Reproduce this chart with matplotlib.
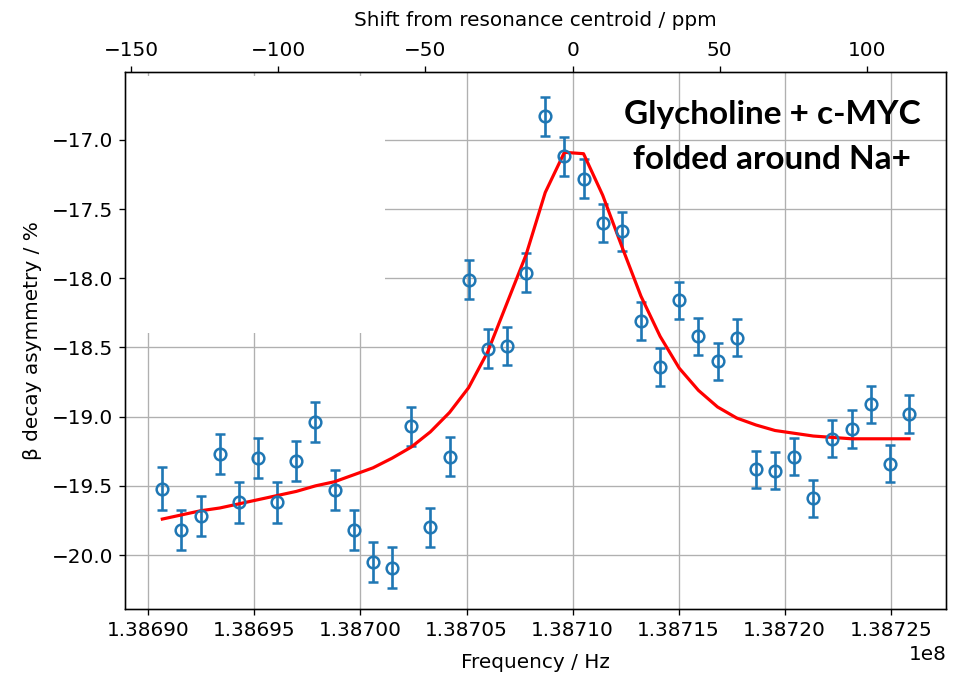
import numpy as np
import matplotlib
matplotlib.use('Agg')
import matplotlib.pyplot as plt
from matplotlib.patches import Rectangle

# frequencies of the scan points (Hz)
freq = [138690660, 138691563, 138692465, 138693368, 138694270, 138695173,
        138696076, 138696978, 138697881, 138698783, 138699686, 138700589,
        138701491, 138702394, 138703296, 138704199, 138705102, 138706004,
        138706907, 138707809, 138708712, 138709615, 138710517, 138711420,
        138712322, 138713225, 138714128, 138715030, 138715933, 138716835,
        138717738, 138718641, 138719543, 138720446, 138721348, 138722251,
        138723154, 138724056, 138724959, 138725861]

# measured asymmetry (%)
asym = [-19.52, -19.82, -19.72, -19.27, -19.62, -19.30, -19.62, -19.32,
        -19.04, -19.53, -19.82, -20.05, -20.09, -19.07, -19.80, -19.29,
        -18.01, -18.51, -18.49, -17.96, -16.83, -17.12, -17.28, -17.60,
        -17.66, -18.31, -18.64, -18.16, -18.42, -18.60, -18.43, -19.38,
        -19.39, -19.29, -19.59, -19.16, -19.09, -18.91, -19.34, -18.98]

asym_err = [0.155, 0.145, 0.145, 0.145, 0.145, 0.145, 0.145, 0.145,
            0.145, 0.145, 0.145, 0.145, 0.145, 0.14, 0.14, 0.14,
            0.14, 0.14, 0.14, 0.14, 0.14, 0.14, 0.14, 0.14,
            0.14, 0.135, 0.135, 0.135, 0.135, 0.135, 0.135, 0.135,
            0.135, 0.135, 0.135, 0.135, 0.135, 0.135, 0.135, 0.135]

# fitted curve evaluated at the scan points
fit = [-19.74, -19.71, -19.68, -19.66, -19.63, -19.60, -19.57, -19.54,
       -19.50, -19.47, -19.42, -19.37, -19.30, -19.22, -19.11, -18.97,
       -18.79, -18.53, -18.18, -17.83, -17.38, -17.09, -17.10, -17.40,
       -17.77, -18.13, -18.42, -18.65, -18.81, -18.93, -19.01, -19.06,
       -19.10, -19.12, -19.14, -19.15, -19.16, -19.16, -19.16, -19.16]

f0 = 138710000.0  # resonance centroid (Hz)

plt.rcParams['font.size'] = 12

fig = plt.figure(figsize=(954 / 120, 674 / 120), dpi=120)
ax = fig.add_axes([0.131, 0.0964, 0.861, 0.7967])

ax.errorbar(freq, asym, yerr=asym_err, fmt='o', mfc='none', color='#1f77b4',
            markersize=7, mew=1.5, capsize=3, capthick=1.5, elinewidth=1.6)
ax.plot(freq, fit, color='red', lw=1.9)
ax.set_ylim(-20.39, -16.51)
ax.grid(True)
ax.set_xlabel('Frequency / Hz', labelpad=8)
ax.set_ylabel('β decay asymmetry / %', labelpad=6)

# blank patch over the upper-left part of the grid
ax.add_patch(Rectangle((0.0, 0.514), 0.317, 0.478, transform=ax.transAxes,
                       facecolor='white', edgecolor='none', zorder=1.6))

ax2 = ax.twiny()
lo, hi = ax.get_xlim()
ax2.set_xlim((lo - f0) / f0 * 1e6, (hi - f0) / f0 * 1e6)
ax2.set_xlabel('Shift from resonance centroid / ppm', labelpad=9)

ax.text(0.788, 0.879, 'Glycholine + c-MYC\nfolded around Na+', transform=ax.transAxes,
        ha='center', va='center', fontsize=20, fontweight='bold',
        family=['Lato', 'DejaVu Sans'], linespacing=1.7)

fig.savefig('out.png', dpi=120)
